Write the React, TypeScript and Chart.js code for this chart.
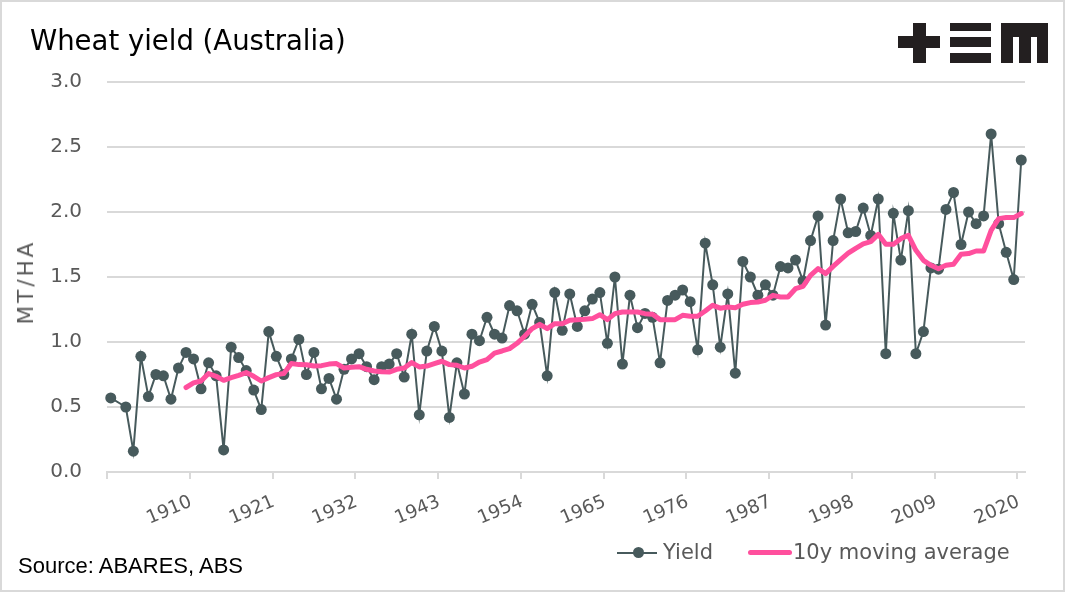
import React, { useEffect, useRef } from 'react';
import { Chart, registerables } from 'chart.js';

Chart.register(...registerables);

// Categories: one per harvest year
const firstYear = 1900;
const yearCount = 122;
const years: string[] = Array.from({ length: yearCount }, (_, i) => String(firstYear + i));

// Years that carry an axis label
const tickYears: number[] = [1910, 1921, 1932, 1943, 1954, 1965, 1976, 1987, 1998, 2009, 2020];

// Wheat yield, MT/HA (null = no data)
const yieldValues: (number | null)[] = [
  0.57, null, 0.50, 0.16, 0.89, 0.58, 0.75, 0.74, 0.56, 0.80,
  0.92, 0.87, 0.64, 0.84, 0.74, 0.17, 0.96, 0.88, 0.78, 0.63,
  0.48, 1.08, 0.89, 0.75, 0.87, 1.02, 0.75, 0.92, 0.64, 0.72,
  0.56, 0.79, 0.87, 0.91, 0.81, 0.71, 0.81, 0.83, 0.91, 0.73,
  1.06, 0.44, 0.93, 1.12, 0.93, 0.42, 0.84, 0.60, 1.06, 1.01,
  1.19, 1.06, 1.03, 1.28, 1.24, 1.06, 1.29, 1.15, 0.74, 1.38,
  1.09, 1.37, 1.12, 1.24, 1.33, 1.38, 0.99, 1.50, 0.83, 1.36,
  1.11, 1.22, 1.19, 0.84, 1.32, 1.36, 1.40, 1.31, 0.94, 1.76,
  1.44, 0.96, 1.37, 0.76, 1.62, 1.50, 1.36, 1.44, 1.36, 1.58,
  1.57, 1.63, 1.47, 1.78, 1.97, 1.13, 1.78, 2.10, 1.84, 1.85,
  2.03, 1.82, 2.10, 0.91, 1.99, 1.63, 2.01, 0.91, 1.08, 1.57,
  1.56, 2.02, 2.15, 1.75, 2.00, 1.91, 1.97, 2.60, 1.91, 1.69,
  1.48, 2.40,
];

// 10-year moving average, MT/HA
const movingAverage: (number | null)[] = [
  null, null, null, null, null, null, null, null, null, null,
  0.65, 0.685, 0.70, 0.757, 0.736, 0.705, 0.726, 0.744, 0.765, 0.736,
  0.70, 0.726, 0.749, 0.757, 0.834, 0.826, 0.825, 0.815, 0.818, 0.83,
  0.834, 0.80, 0.805, 0.81, 0.79, 0.777, 0.772, 0.769, 0.79, 0.80,
  0.842, 0.808, 0.815, 0.834, 0.852, 0.826, 0.821, 0.80, 0.813, 0.846,
  0.865, 0.915, 0.931, 0.949, 0.99, 1.044, 1.103, 1.136, 1.103, 1.141,
  1.141, 1.167, 1.172, 1.175, 1.18, 1.21, 1.172, 1.218, 1.231, 1.231,
  1.231, 1.218, 1.213, 1.172, 1.172, 1.172, 1.205, 1.198, 1.198, 1.238,
  1.282, 1.26, 1.269, 1.264, 1.29, 1.303, 1.308, 1.321, 1.359, 1.346,
  1.346, 1.41, 1.428, 1.513, 1.564, 1.526, 1.582, 1.634, 1.683, 1.72,
  1.755, 1.772, 1.828, 1.751, 1.751, 1.795, 1.821, 1.705, 1.628, 1.59,
  1.564, 1.59, 1.598, 1.675, 1.68, 1.70, 1.70, 1.859, 1.949, 1.957,
  1.957, 1.988,
];

const yMin = 0;
const yMax = 3;
const yStep = 0.5;

const GREY_TEXT = '#595959';
const GRID = '#d9d9d9';
const YIELD_COLOR = '#475a5c';
const MA_COLOR = '#ff4f9d';
const FONT = '"DejaVu Sans", sans-serif';

export default function App() {
  const canvasRef = useRef<HTMLCanvasElement | null>(null);

  useEffect(() => {
    if (!canvasRef.current) return;
    const chart = new Chart(canvasRef.current, {
      type: 'line',
      data: {
        labels: years,
        datasets: [
          {
            label: 'Yield',
            data: yieldValues,
            borderColor: YIELD_COLOR,
            backgroundColor: YIELD_COLOR,
            borderWidth: 2,
            pointRadius: 5.5,
            pointBorderWidth: 0,
            pointBackgroundColor: YIELD_COLOR,
            spanGaps: true,
            tension: 0,
            order: 2,
          },
          {
            label: '10y moving average',
            data: movingAverage,
            borderColor: MA_COLOR,
            backgroundColor: MA_COLOR,
            borderWidth: 5,
            pointRadius: 0,
            tension: 0,
            borderCapStyle: 'round',
            borderJoinStyle: 'round',
            order: 1,
          },
        ],
      },
      options: {
        responsive: false,
        animation: false,
        layout: { padding: { left: 0, right: 40, top: 82, bottom: 60 } },
        plugins: { legend: { display: false }, tooltip: { enabled: false } },
        scales: {
          x: {
            type: 'category',
            offset: true,
            grid: {
              offset: true,
              drawOnChartArea: false,
              drawTicks: true,
              tickLength: 7,
              lineWidth: 2,
              color: (ctx: any) => (ctx.index % 11 === 0 ? GRID : 'rgba(0,0,0,0)'),
            },
            border: { display: true, color: GRID, width: 2 },
            ticks: {
              autoSkip: false,
              maxRotation: 23,
              minRotation: 23,
              padding: 12,
              labelOffset: 5,
              color: GREY_TEXT,
              font: { family: FONT, size: 18.5 },
              callback: (_v: any, i: number) =>
                tickYears.includes(Number(years[i])) ? years[i] : '',
            },
            afterFit: (s: any) => {
              s.height = 60;
            },
          },
          y: {
            min: yMin,
            max: yMax,
            ticks: {
              stepSize: yStep,
              padding: 25,
              color: GREY_TEXT,
              font: { family: FONT, size: 20 },
              callback: (v: any) => Number(v).toFixed(1),
            },
            grid: { color: GRID, lineWidth: 2, drawTicks: false },
            border: { display: false },
            title: { display: false },
            afterFit: (s: any) => {
              s.width = 107;
            },
          },
        },
      },
    } as any);
    return () => chart.destroy();
  }, []);

  const black = '#231f20';

  return (
    <div
      style={{
        position: 'absolute',
        left: 0,
        top: 0,
        width: 1065,
        height: 592,
        background: '#fff',
        overflow: 'hidden',
      }}
    >
      <canvas
        ref={canvasRef}
        width={1065}
        height={592}
        style={{ position: 'absolute', left: 0, top: 0, width: 1065, height: 592 }}
      />
      <div
        style={{
          position: 'absolute',
          left: 30,
          top: 26.5,
          fontFamily: FONT,
          fontSize: 27.5,
          lineHeight: '27.5px',
          color: '#000',
          whiteSpace: 'nowrap',
        }}
      >
        Wheat yield (Australia)
      </div>

      {/* y-axis title */}
      <div
        style={{
          position: 'absolute',
          left: 26,
          top: 282,
          width: 0,
          height: 0,
        }}
      >
        <div
          style={{
            position: 'absolute',
            left: 0,
            top: 0,
            transform: 'translate(-50%, -50%) rotate(-90deg)',
            fontFamily: FONT,
            fontSize: 21.5,
            lineHeight: '22px',
            letterSpacing: '3px',
            color: GREY_TEXT,
            whiteSpace: 'nowrap',
          }}
        >
          MT/HA
        </div>
      </div>

      {/* logo */}
      <div style={{ position: 'absolute', left: 898, top: 36, width: 42, height: 12, background: black }} />
      <div style={{ position: 'absolute', left: 913, top: 23, width: 13, height: 40, background: black }} />
      <div style={{ position: 'absolute', left: 950, top: 23, width: 41, height: 8, background: black }} />
      <div style={{ position: 'absolute', left: 950, top: 37, width: 41, height: 10, background: black }} />
      <div style={{ position: 'absolute', left: 950, top: 53, width: 41, height: 10, background: black }} />
      <div style={{ position: 'absolute', left: 1001, top: 23, width: 47, height: 14, background: black }} />
      <div style={{ position: 'absolute', left: 1001, top: 23, width: 12, height: 40, background: black }} />
      <div style={{ position: 'absolute', left: 1019, top: 23, width: 12, height: 40, background: black }} />
      <div style={{ position: 'absolute', left: 1037, top: 23, width: 11, height: 40, background: black }} />

      {/* legend */}
      <div style={{ position: 'absolute', left: 617, top: 551.5, width: 40, height: 2, background: YIELD_COLOR }} />
      <div
        style={{
          position: 'absolute',
          left: 632.5,
          top: 547,
          width: 11,
          height: 11,
          borderRadius: 6,
          background: YIELD_COLOR,
        }}
      />
      <div
        style={{
          position: 'absolute',
          left: 663,
          top: 541.5,
          fontFamily: FONT,
          fontSize: 21,
          lineHeight: '21px',
          color: GREY_TEXT,
          whiteSpace: 'nowrap',
        }}
      >
        Yield
      </div>
      <div
        style={{
          position: 'absolute',
          left: 748,
          top: 550,
          width: 44,
          height: 5,
          borderRadius: 3,
          background: MA_COLOR,
        }}
      />
      <div
        style={{
          position: 'absolute',
          left: 793,
          top: 541.5,
          fontFamily: FONT,
          fontSize: 21,
          lineHeight: '21px',
          color: GREY_TEXT,
          whiteSpace: 'nowrap',
        }}
      >
        10y moving average
      </div>

      {/* source */}
      <div
        style={{
          position: 'absolute',
          left: 18,
          top: 554.5,
          fontFamily: '"Liberation Sans", Arial, sans-serif',
          fontSize: 22,
          lineHeight: '22px',
          color: '#000',
          whiteSpace: 'nowrap',
        }}
      >
        Source: ABARES, ABS
      </div>

      {/* frame */}
      <div
        style={{
          position: 'absolute',
          left: 0,
          top: 0,
          width: 1065,
          height: 592,
          boxSizing: 'border-box',
          border: '2px solid #d9d9d9',
          pointerEvents: 'none',
        }}
      />
    </div>
  );
}
